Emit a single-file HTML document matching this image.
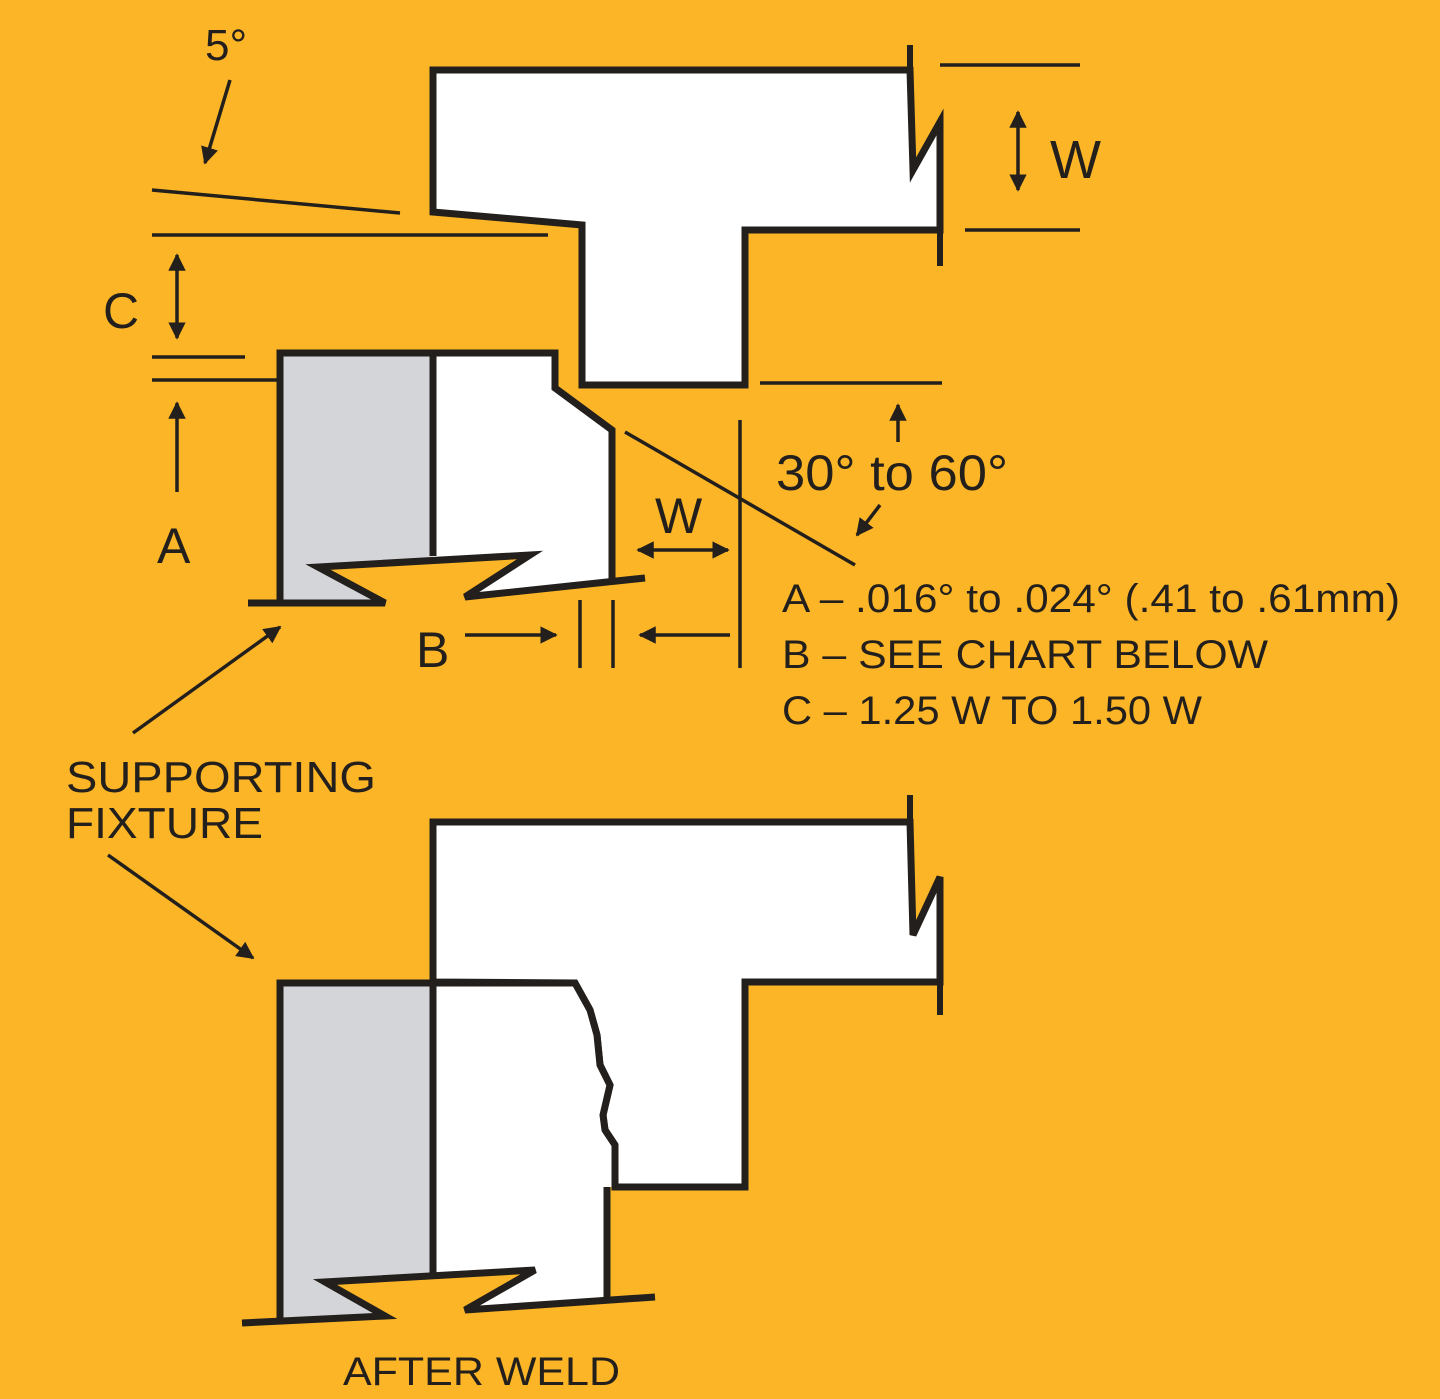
<!DOCTYPE html>
<html><head><style>
html,body{margin:0;padding:0;background:#FBB526;}
svg{display:block}
text{font-family:"Liberation Sans",sans-serif;fill:#231f1c;}
</style></head><body>
<svg width="1440" height="1399" viewBox="0 0 1440 1399" xmlns="http://www.w3.org/2000/svg">
<defs>
<marker id="ah" viewBox="0 0 10 10" refX="9" refY="5" markerWidth="5" markerHeight="5" orient="auto-start-reverse">
<path d="M0,0 L10,5 L0,10 z" fill="#231f1c"/></marker>
</defs>
<rect width="1440" height="1399" fill="#FBB526"/>
<g stroke="#231f1c" fill="none" stroke-linejoin="miter">
<path d="M433,70 L910,70 L913,170 L940,122 L940,230 L745,230 L745,385 L582,385 L582,225 L433,212 Z" fill="#fff" stroke-width="7"/>
<line x1="910" y1="45" x2="910" y2="72" stroke-width="6"/>
<line x1="940" y1="228" x2="940" y2="266" stroke-width="6"/>
<line x1="940" y1="65" x2="1080" y2="65" stroke-width="3.5"/>
<line x1="965" y1="230" x2="1080" y2="230" stroke-width="3.5"/>
<line x1="1018" y1="112" x2="1018" y2="190" stroke-width="3.5" marker-start="url(#ah)" marker-end="url(#ah)"/>
<line x1="152" y1="190" x2="400" y2="213" stroke-width="3.5"/>
<line x1="152" y1="235" x2="548" y2="235" stroke-width="3.5"/>
<line x1="230" y1="80" x2="205" y2="163" stroke-width="3.5" marker-end="url(#ah)"/>
<line x1="152" y1="357" x2="245" y2="357" stroke-width="3.5"/>
<line x1="152" y1="380" x2="278" y2="380" stroke-width="3.5"/>
<line x1="177" y1="255" x2="177" y2="338" stroke-width="3.5" marker-start="url(#ah)" marker-end="url(#ah)"/>
<line x1="177" y1="492" x2="177" y2="403" stroke-width="3.5" marker-end="url(#ah)"/>
<rect x="280" y="353" width="153" height="250" fill="#d4d5d8" stroke="none"/>
<path d="M433,353 L555,353 L555,388 L612,430 L612,605 L433,605 Z" fill="#fff" stroke="none"/>
<path d="M240,603 L385,603 L318,567 L530,555 L465,597 L650,578 L650,700 L240,700 Z" fill="#FBB526" stroke="none"/>
<path d="M280,603 L280,353 L555,353 L555,388 L612,430 L612,580" stroke-width="7"/>
<line x1="433" y1="353" x2="433" y2="556" stroke-width="7"/>
<path d="M248,603 L385,603 L318,567 L530,555 L465,597 L645,578" stroke-width="7"/>
<line x1="625" y1="432" x2="855" y2="565" stroke-width="3.5"/>
<line x1="740" y1="420" x2="740" y2="668" stroke-width="3.5"/>
<line x1="760" y1="383" x2="942" y2="383" stroke-width="3.5"/>
<line x1="898" y1="442" x2="898" y2="405" stroke-width="3.5" marker-end="url(#ah)"/>
<line x1="880" y1="505" x2="857" y2="535" stroke-width="3.5" marker-end="url(#ah)"/>
<line x1="638" y1="550" x2="728" y2="550" stroke-width="3.5" marker-start="url(#ah)" marker-end="url(#ah)"/>
<line x1="465" y1="635" x2="556" y2="635" stroke-width="3.5" marker-end="url(#ah)"/>
<line x1="730" y1="635" x2="640" y2="635" stroke-width="3.5" marker-end="url(#ah)"/>
<line x1="580" y1="600" x2="580" y2="668" stroke-width="3.5"/>
<line x1="613" y1="600" x2="613" y2="668" stroke-width="3.5"/>
<line x1="133" y1="733" x2="280" y2="627" stroke-width="3.5" marker-end="url(#ah)"/>
<line x1="108" y1="855" x2="253" y2="958" stroke-width="3.5" marker-end="url(#ah)"/>
<path d="M433,982 L433,822 L910,822 L913,935 L940,877 L940,982 L745,982 L745,1187 L615,1187 L615,1145 L605,1130 L603,1115 L610,1085 L600,1065 L597,1035 L590,1010 L575,983 Z" fill="#fff" stroke-width="7"/>
<line x1="910" y1="795" x2="910" y2="824" stroke-width="6"/>
<line x1="940" y1="980" x2="940" y2="1015" stroke-width="6"/>
<rect x="280" y="983" width="153" height="338" fill="#d4d5d8" stroke="none"/>
<path d="M433,985 L575,985 L590,1010 L597,1035 L600,1065 L610,1085 L603,1115 L605,1130 L615,1145 L615,1187 L607,1187 L607,1320 L433,1320 Z" fill="#fff" stroke="none"/>
<path d="M235,1323 L385,1316 L325,1282 L535,1270 L465,1310 L660,1297 L660,1340 L235,1340 Z" fill="#FBB526" stroke="none"/>
<path d="M433,983 L575,983 L590,1010 L597,1035 L600,1065 L610,1085 L603,1115 L605,1130 L615,1145 L615,1187" stroke-width="7"/>
<path d="M280,1321 L280,983 L433,983" stroke-width="7"/>
<line x1="433" y1="983" x2="433" y2="1275" stroke-width="7"/>
<line x1="607" y1="1187" x2="607" y2="1300" stroke-width="7"/>
<path d="M242,1323 L385,1316 L325,1282 L535,1270 L465,1310 L655,1297" stroke-width="7"/>
</g>
<g font-size="48">
<text x="205" y="60" font-size="44">5°</text>
<text x="1050" y="178" font-size="54">W</text>
<text x="103" y="328" font-size="50">C</text>
<text x="157" y="563" font-size="50">A</text>
<text x="655" y="533" font-size="50">W</text>
<text x="416" y="667" font-size="50">B</text>
<text x="776" y="490" font-size="50" textLength="232" lengthAdjust="spacingAndGlyphs">30° to 60°</text>
</g>
<g font-size="40">
<text x="782" y="612" textLength="618" lengthAdjust="spacingAndGlyphs">A – .016° to .024° (.41 to .61mm)</text>
<text x="782" y="668" textLength="486" lengthAdjust="spacingAndGlyphs">B – SEE CHART BELOW</text>
<text x="782" y="724" textLength="420" lengthAdjust="spacingAndGlyphs">C – 1.25 W TO 1.50 W</text>
<text x="66" y="792" font-size="44" textLength="310" lengthAdjust="spacingAndGlyphs">SUPPORTING</text>
<text x="66" y="838" font-size="44" textLength="197" lengthAdjust="spacingAndGlyphs">FIXTURE</text>
<text x="343" y="1385" font-size="40" textLength="277" lengthAdjust="spacingAndGlyphs">AFTER WELD</text>
</g>
</svg>
</body></html>
